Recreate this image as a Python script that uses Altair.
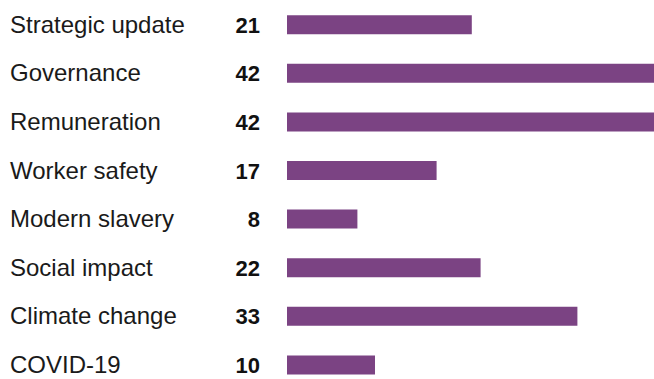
import altair as alt
import pandas as pd

categories = ["Strategic update", "Governance", "Remuneration", "Worker safety",
              "Modern slavery", "Social impact", "Climate change", "COVID-19"]
values = [21, 42, 42, 17, 8, 22, 33, 10]

df = pd.DataFrame({"topic": categories, "count": values})

yenc = alt.Y("topic:N", sort=categories, axis=None,
             scale=alt.Scale(range=[0.4, 389.2], paddingInner=0, paddingOuter=0))

bars = alt.Chart(df).mark_bar(color="#7B4383", size=19).encode(
    x=alt.X("count:Q", axis=None, scale=alt.Scale(domain=[0, 42], range=[287, 656.6], nice=False)),
    y=yenc,
)

labels = alt.Chart(df).mark_text(align="left", baseline="middle", font="Liberation Sans",
                                 fontSize=24, dy=1, color="#1a1a1a").encode(
    x=alt.value(10), y=yenc, text="topic:N")

nums = alt.Chart(df).mark_text(align="right", baseline="middle", font="Liberation Sans",
                               fontSize=22, dy=1, fontWeight="bold", color="#111111").encode(
    x=alt.value(260), y=yenc, text="count:Q")

chart = alt.layer(bars, labels, nums).properties(
    width=654, height=379, padding=0, autosize="none"
).configure_view(stroke=None)

chart.save("out.html", embed_options={"renderer": "svg", "actions": False})
